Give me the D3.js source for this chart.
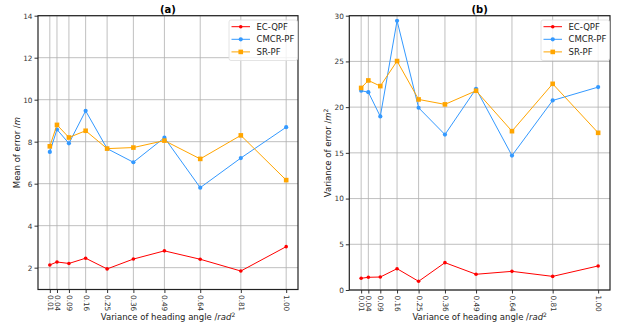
<!DOCTYPE html>
<html>
<head>
<meta charset="utf-8">
<script src="https://cdn.jsdelivr.net/npm/d3@7"></script>
<style>
  body { margin: 0; background: #fff; }
  svg { font-family: "DejaVu Sans", sans-serif; }
</style>
</head>
<body>
<div id="chart"></div>
<script>
// heading-angle variances (x ticks)
var variances = [0.01, 0.04, 0.09, 0.16, 0.25, 0.36, 0.49, 0.64, 0.81, 1.00];
var tickLabels = ["0.01", "0.04", "0.09", "0.16", "0.25", "0.36", "0.49", "0.64", "0.81", "1.00"];
var seriesNames = ["EC-QPF", "CMCR-PF", "SR-PF"];

// (a) mean of error
var meanEC = [2.13, 2.27, 2.2, 2.45, 1.94, 2.41, 2.8, 2.4, 1.84, 3.0];
var meanCMCR = [7.51, 8.58, 7.92, 9.47, 7.67, 7.02, 8.19, 5.81, 7.22, 8.69];
var meanSR = [7.78, 8.8, 8.2, 8.52, 7.67, 7.72, 8.05, 7.18, 8.3, 6.17];

// (b) variance of error
var varEC = [1.28, 1.39, 1.42, 2.33, 0.95, 2.99, 1.72, 2.04, 1.49, 2.63];
var varCMCR = [21.79, 21.64, 18.98, 29.45, 19.93, 17.0, 22.0, 14.7, 20.73, 22.19];
var varSR = [22.1, 22.92, 22.3, 25.04, 20.84, 20.3, 21.79, 17.37, 22.55, 17.19];

var yTicksA = [2, 4, 6, 8, 10, 12, 14];
var yTicksB = [0, 5, 10, 15, 20, 25, 30];

var colors = ["#ff0000", "#3399ff", "#ffa500"];

var svg = d3.select("#chart").append("svg")
    .attr("width", 619)
    .attr("height", 328);

function panel(opts) {
    var x = d3.scaleLinear().domain([-0.0395, 1.0495]).range([opts.left, opts.right]);
    var y = d3.scaleLinear().domain(opts.yDomain).range([opts.bottom, opts.top]);
    var g = svg.append("g");

    // grid
    g.selectAll(".vgrid").data(variances).enter().append("line")
        .attr("x1", function (d) { return x(d); })
        .attr("x2", function (d) { return x(d); })
        .attr("y1", opts.top).attr("y2", opts.bottom)
        .style("stroke", "#b0b0b0").style("stroke-width", 0.8);
    g.selectAll(".hgrid").data(opts.yTicks).enter().append("line")
        .attr("x1", opts.left).attr("x2", opts.right)
        .attr("y1", function (d) { return y(d); })
        .attr("y2", function (d) { return y(d); })
        .style("stroke", "#b0b0b0").style("stroke-width", 0.8);

    // axes
    var xAxis = g.append("g")
        .attr("transform", "translate(0," + opts.bottom + ")")
        .call(d3.axisBottom(x).tickValues(variances)
            .tickFormat(function (d, i) { return tickLabels[i]; })
            .tickSize(3.5).tickPadding(2));
    xAxis.selectAll("text")
        .attr("transform", "rotate(90)")
        .attr("x", 5.5).attr("y", 0).attr("dy", "0.35em")
        .style("text-anchor", "start");
    var yAxis = g.append("g")
        .attr("transform", "translate(" + opts.left + ",0)")
        .call(d3.axisLeft(y).tickValues(opts.yTicks).tickSize(3.5).tickPadding(2));
    [xAxis, yAxis].forEach(function (a) {
        a.select(".domain").remove();
        a.selectAll("line").style("stroke", "#333");
        a.selectAll("text").style("font-size", "7.3px").style("fill", "#333")
            .style("font-family", "DejaVu Sans");
    });

    // lines
    var line = d3.line()
        .x(function (d, i) { return x(variances[i]); })
        .y(function (d) { return y(d); });

    opts.series.forEach(function (vals, k) {
        g.append("path").datum(vals)
            .style("fill", "none")
            .style("stroke", colors[k])
            .style("stroke-width", 1)
            .attr("d", line);
        if (k === 2) {
            g.selectAll(".sq" + k).data(vals).enter().append("rect")
                .attr("x", function (d, i) { return x(variances[i]) - 2.3; })
                .attr("y", function (d) { return y(d) - 2.3; })
                .attr("width", 4.6).attr("height", 4.6)
                .style("fill", colors[k]);
        } else {
            g.selectAll(".pt" + k).data(vals).enter().append("circle")
                .attr("cx", function (d, i) { return x(variances[i]); })
                .attr("cy", function (d) { return y(d); })
                .attr("r", k === 0 ? 1.8 : 2.1)
                .style("fill", colors[k]);
        }
    });

    // frame
    g.append("rect")
        .attr("x", opts.left).attr("y", opts.top)
        .attr("width", opts.right - opts.left)
        .attr("height", opts.bottom - opts.top)
        .style("fill", "none").style("stroke", "#222").style("stroke-width", 1.2);

    // title
    g.append("text")
        .attr("x", (opts.left + opts.right) / 2).attr("y", 13)
        .attr("text-anchor", "middle")
        .style("font-size", "10px").style("font-weight", "bold")
        .text(opts.title);

    // x label
    var xl = g.append("text")
        .attr("x", (opts.left + opts.right) / 2).attr("y", 320)
        .attr("text-anchor", "middle")
        .style("font-size", "8.5px").style("fill", "#222");
    xl.append("tspan").text("Variance of heading angle /");
    xl.append("tspan").style("font-style", "italic").text("rad");
    xl.append("tspan").attr("dy", -3.5).style("font-size", "6px").text("2");

    // y label
    var yl = g.append("text")
        .attr("transform", "translate(" + opts.ylabelX + "," + ((opts.top + opts.bottom) / 2) + ") rotate(-90)")
        .attr("text-anchor", "middle")
        .style("font-size", "8.5px").style("fill", "#222");
    yl.append("tspan").text(opts.ylabel);
    yl.append("tspan").style("font-style", "italic").text("m");
    if (opts.squared) {
        yl.append("tspan").attr("dy", -3.5).style("font-size", "6px").text("2");
    }

    // legend
    var lx = opts.right - 69, ly = 20;
    g.append("rect")
        .attr("x", lx).attr("y", ly).attr("width", 68.5).attr("height", 40.5)
        .attr("rx", 2)
        .style("fill", "#fff").style("fill-opacity", 0.8)
        .style("stroke", "#ddd").style("stroke-width", 0.8);
    seriesNames.forEach(function (name, k) {
        var yy = ly + 6.7 + k * 12.6;
        g.append("line")
            .attr("x1", lx + 2.5).attr("x2", lx + 21)
            .attr("y1", yy).attr("y2", yy)
            .style("stroke", colors[k]).style("stroke-width", 1);
        if (k === 2) {
            g.append("rect").attr("x", lx + 11.75 - 2.3).attr("y", yy - 2.3)
                .attr("width", 4.6).attr("height", 4.6).style("fill", colors[k]);
        } else {
            g.append("circle").attr("cx", lx + 11.75).attr("cy", yy)
                .attr("r", k === 0 ? 1.8 : 2.1).style("fill", colors[k]);
        }
        g.append("text")
            .attr("x", lx + 27.5).attr("y", yy).attr("dy", "0.35em")
            .style("font-size", "8.5px").style("fill", "#222")
            .text(name);
    });
}

panel({
    left: 38, right: 298, top: 15.7, bottom: 289.5,
    yDomain: [0.96, 14], yTicks: yTicksA,
    series: [meanEC, meanCMCR, meanSR],
    title: "(a)", ylabel: "Mean of error /", squared: false, ylabelX: 20
});

panel({
    left: 349.3, right: 610, top: 15.7, bottom: 290,
    yDomain: [0, 30], yTicks: yTicksB,
    series: [varEC, varCMCR, varSR],
    title: "(b)", ylabel: "Variance of error /", squared: true, ylabelX: 331
});
</script>
</body>
</html>
